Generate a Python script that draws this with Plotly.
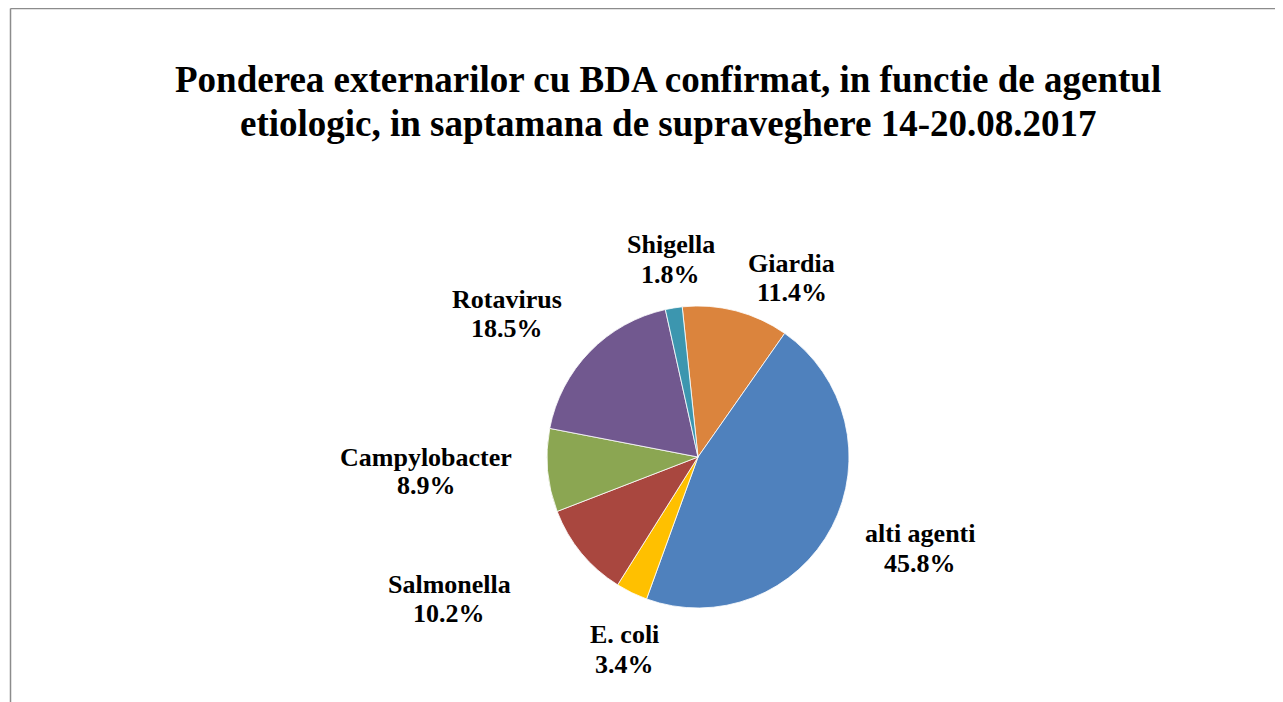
import plotly.graph_objects as go

# Data
categories = ["Giardia", "alti agenti", "E. coli", "Salmonella", "Campylobacter", "Rotavirus", "Shigella"]
values = [11.4, 45.8, 3.4, 10.2, 8.9, 18.5, 1.8]
colors = ["#DB843D", "#4F81BD", "#FFC000", "#A9473F", "#8BA652", "#71588F", "#3C96AF"]

title_lines = ["Ponderea externarilor cu BDA confirmat, in functie de agentul",
               "etiologic, in saptamana de supraveghere 14-20.08.2017"]

# Label positions (page pixels: x center, y of name line, y of percentage line)
label_pos = {
    "Giardia": (792, 263, 292),
    "alti agenti": (920, 533, 563),
    "E. coli": (624, 634, 664),
    "Salmonella": (449, 584, 613),
    "Campylobacter": (426, 457, 486),
    "Rotavirus": (507, 299, 329),
    "Shigella": (671, 244, 274),
}

W, H = 1283, 702
OFF = 8  # page body margin offset
FONT = "Liberation Serif, Times New Roman, serif"


def px(x):
    return (x - OFF) / W


def py(y):
    return 1 - (y - OFF) / H


cx, cy, r = 698, 457, 151

fig = go.Figure(go.Pie(
    labels=categories,
    values=values,
    sort=False,
    direction="clockwise",
    rotation=-6,
    marker=dict(colors=colors, line=dict(color="white", width=0.8)),
    textinfo="none",
    showlegend=False,
    domain=dict(x=[px(cx - r), px(cx + r)], y=[py(cy + r), py(cy - r)]),
))

annotations = []
for cat, val in zip(categories, values):
    x, y1, y2 = label_pos[cat]
    for txt, yy in ((cat, y1), (f"{val:.1f}%", y2)):
        annotations.append(dict(
            x=px(x), y=py(yy), xref="paper", yref="paper",
            text=f"<b>{txt}</b>", showarrow=False,
            xanchor="center", yanchor="middle",
            font=dict(family=FONT, size=26, color="#000000"),
        ))

for line, yy in zip(title_lines, (80, 124)):
    annotations.append(dict(
        x=px(668), y=py(yy), xref="paper", yref="paper",
        text=f"<b>{line}</b>", showarrow=False,
        xanchor="center", yanchor="middle",
        font=dict(family=FONT, size=37, color="#000000"),
    ))

shapes = [
    dict(type="line", xref="paper", yref="paper", x0=px(10.5), x1=1.02, y0=py(8.5), y1=py(8.5),
         line=dict(color="#8c8c8c", width=1.5)),
    dict(type="line", xref="paper", yref="paper", x0=px(10.5), x1=px(10.5), y0=py(8.5), y1=-0.05,
         line=dict(color="#8c8c8c", width=1.5)),
]

fig.update_layout(
    width=W, height=H,
    margin=dict(l=0, r=0, t=0, b=0),
    paper_bgcolor="white",
    plot_bgcolor="white",
    annotations=annotations,
    shapes=shapes,
)

fig.write_html("out.html")
